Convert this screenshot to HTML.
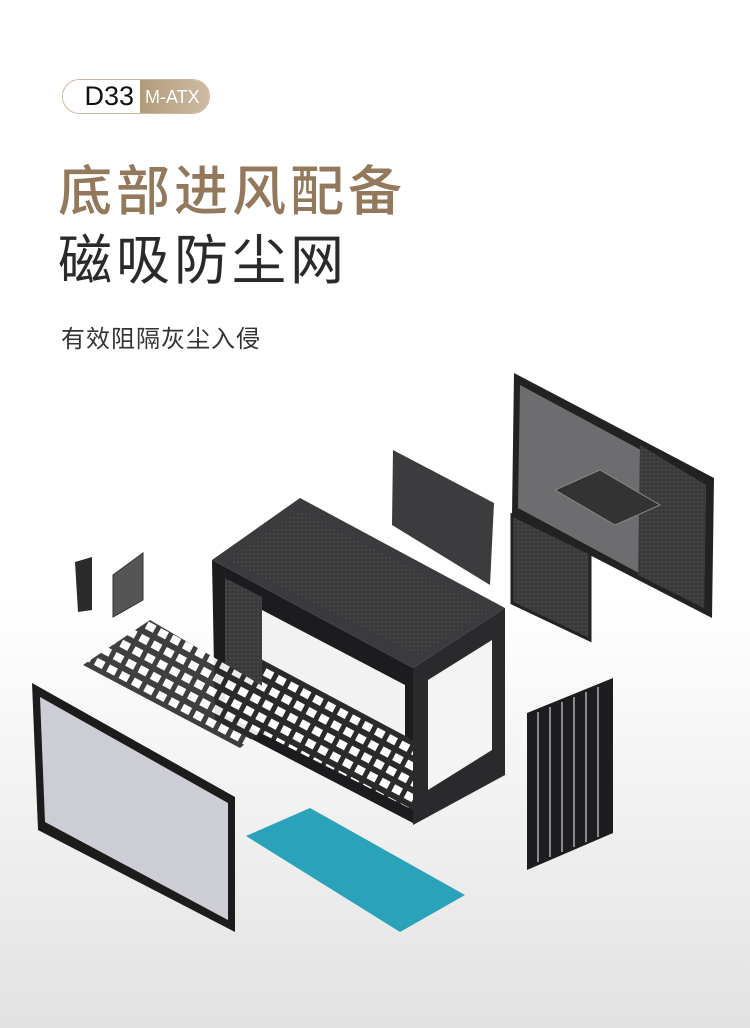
<!DOCTYPE html>
<html><head><meta charset="utf-8"><style>
html,body{margin:0;padding:0}
body{width:750px;height:1028px;position:relative;overflow:hidden;background:linear-gradient(#fff 0,#fff 600px,#ebebec 900px,#e2e2e3 1028px);font-family:"Liberation Sans","Noto Sans CJK SC",sans-serif}
.badge{position:absolute;left:62px;top:79px;width:148px;height:35px;border-radius:18px;overflow:hidden;border:1px solid #c9b79f;box-sizing:border-box;display:flex}
.badge .a{width:77px;background:#fff;font-size:27px;color:#111;line-height:33px;text-align:right;padding-right:6px;box-sizing:border-box}
.badge .b{flex:1;background:linear-gradient(90deg,#b39b7c,#cdbba3);color:#fff;font-size:18px;line-height:35px;padding-left:5px}
.t1{position:absolute;left:58px;top:147px;font-size:54px;color:#93785c;letter-spacing:4px;font-weight:500}
.t2{position:absolute;left:58px;top:216px;font-size:54px;color:#2a2a2a;letter-spacing:4px}
.t3{position:absolute;left:61px;top:319px;font-size:24px;color:#333;letter-spacing:1px}
svg{position:absolute;left:0;top:0}
</style></head><body>
<div class="badge"><div class="a">D33</div><div class="b">M-ATX</div></div>
<div class="t1">底部进风配备</div>
<div class="t2">磁吸防尘网</div>
<div class="t3">有效阻隔灰尘入侵</div>
<svg width="750" height="1028" viewBox="0 0 750 1028">
<defs>
<pattern id="grid" width="14" height="14" patternUnits="userSpaceOnUse" patternTransform="rotate(28)"><rect width="14" height="14" fill="#2a2a2c"/><rect x="3" y="3" width="9" height="8" fill="#fff"/></pattern>
<pattern id="mesh" width="4" height="4" patternUnits="userSpaceOnUse"><rect width="4" height="4" fill="#3a3a3c"/><circle cx="2" cy="2" r="0.8" fill="#555"/></pattern>
</defs>
<polygon points="514,373 714,478 712,618 512,515" fill="#222"/>
<polygon points="520,385 706,485 704,608 518,508" fill="#6d6d70"/>
<polygon points="640,445 706,485 704,608 638,575" fill="url(#mesh)"/>
<polygon points="555,490 600,470 660,505 615,525" fill="#333" stroke="#888"/>
<polygon points="393,450 494,503 490,585 392,525" fill="#3c3c3e"/>
<polygon points="512,515 590,553 590,640 512,603" fill="url(#mesh)" stroke="#222" stroke-width="3"/>
<polygon points="212,560 300,498 505,608 413,668" fill="#3b3b3e"/>
<polygon points="228,560 300,510 490,610 420,655" fill="url(#mesh)"/>
<polygon points="212,560 413,668 413,823 215,720" fill="#1c1c1e"/>
<polygon points="262,610 405,685 405,745 262,670" fill="#f2f2f2"/>
<polygon points="225,640 413,740 413,810 225,715" fill="url(#grid)"/>
<polygon points="413,668 505,608 505,775 413,825" fill="#2a2a2c"/>
<polygon points="428,680 492,640 492,750 428,790" fill="#f4f4f4"/>
<polygon points="225,578 262,597 262,690 225,672" fill="url(#mesh)"/>
<polygon points="75,562 92,557 92,610 78,612" fill="#2b2b2d"/>
<polygon points="113,575 143,553 143,600 113,617" fill="#555" stroke="#333"/>
<polygon points="83,665 150,620 295,705 240,748" fill="url(#grid)" opacity="0.9"/>
<polygon points="32,683 235,797 235,932 38,830" fill="#1c1c1c"/>
<polygon points="40,697 228,803 228,920 45,822" fill="#cdcdd6"/>
<polygon points="246,836 310,808 465,895 400,932" fill="#2aa3ba"/>
<polygon points="527,713 613,678 613,833 527,870" fill="#1d1d1f"/>
<g stroke="#8a8a8c" stroke-width="2">
<line x1="538" y1="712" x2="538" y2="862"/><line x1="550" y1="707" x2="550" y2="857"/><line x1="562" y1="702" x2="562" y2="852"/><line x1="574" y1="697" x2="574" y2="847"/><line x1="586" y1="692" x2="586" y2="842"/><line x1="598" y1="687" x2="598" y2="837"/>
</g>
</svg>
</body></html>
